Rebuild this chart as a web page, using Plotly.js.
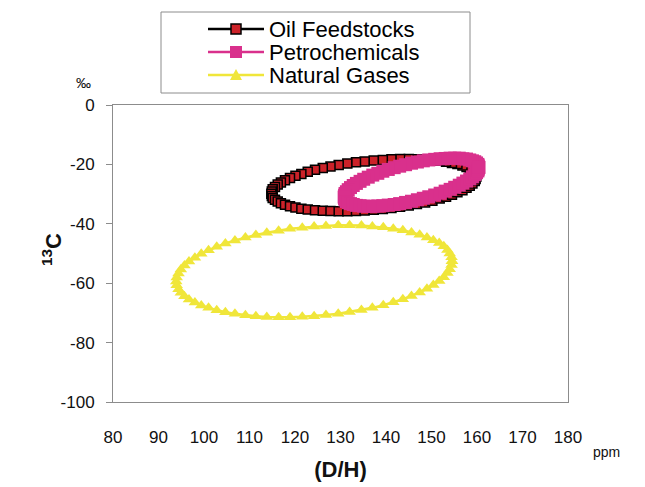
<!DOCTYPE html>
<html>
<head>
<meta charset="utf-8">
<script src="https://cdn.plot.ly/plotly-3.0.1.min.js"></script>
<style>html,body{margin:0;padding:0;background:#fff;}#chart{width:645px;height:487px;}</style>
</head>
<body>
<div id="chart"></div>
<script>
// Oil Feedstocks ellipse (D/H ppm, 13C ‰)
var oilX = [159.8,159.7,159.5,159.0,158.4,157.7,156.8,155.7,154.5,153.2,151.8,150.2,148.6,146.8,145.0,143.1,141.2,139.3,137.3,135.3,133.4,131.5,129.6,127.8,126.1,124.4,122.8,121.4,120.1,118.9,117.8,116.9,116.2,115.6,115.1,114.9,114.8,
  114.9,115.1,115.6,116.2,116.9,117.8,118.9,120.1,121.4,122.8,124.4,126.1,127.8,129.6,131.5,133.4,135.3,137.3,139.3,141.2,143.1,145.0,146.8,148.6,150.2,151.8,153.2,154.5,155.7,156.8,157.7,158.4,159.0,159.5,159.7,159.8];
var oilY = [-24.2,-23.4,-22.8,-22.1,-21.5,-20.9,-20.4,-19.9,-19.5,-19.1,-18.8,-18.6,-18.4,-18.3,-18.2,-18.2,-18.3,-18.5,-18.7,-19.0,-19.3,-19.7,-20.2,-20.7,-21.2,-21.8,-22.5,-23.2,-23.8,-24.6,-25.3,-26.1,-26.8,-27.6,-28.4,-29.1,-29.9,
  -30.6,-31.3,-31.9,-32.5,-33.1,-33.6,-34.1,-34.5,-34.9,-35.2,-35.4,-35.6,-35.7,-35.8,-35.8,-35.7,-35.5,-35.3,-35.0,-34.7,-34.3,-33.8,-33.3,-32.8,-32.2,-31.5,-30.9,-30.2,-29.4,-28.7,-27.9,-27.2,-26.4,-25.6,-24.9,-24.2];

// Petrochemicals ellipse
var petroX = [160.4,160.3,160.2,159.9,159.5,159.0,158.4,157.7,156.9,156.1,155.1,154.1,153.0,151.9,150.7,149.4,148.2,146.9,145.6,144.3,143.0,141.8,140.5,139.3,138.2,137.1,136.1,135.1,134.3,133.5,132.8,132.2,131.7,131.3,131.0,130.9,130.8,
  130.9,131.0,131.3,131.7,132.2,132.8,133.5,134.3,135.1,136.1,137.1,138.2,139.3,140.5,141.8,143.0,144.3,145.6,146.9,148.2,149.4,150.7,151.9,153.0,154.1,155.1,156.1,156.9,157.7,158.4,159.0,159.5,159.9,160.2,160.3,160.4];
var petroY = [-21.0,-20.5,-20.0,-19.5,-19.1,-18.8,-18.5,-18.2,-18.1,-17.9,-17.9,-17.9,-18.0,-18.1,-18.3,-18.5,-18.8,-19.2,-19.6,-20.1,-20.6,-21.1,-21.7,-22.3,-23.0,-23.6,-24.3,-25.0,-25.7,-26.4,-27.1,-27.8,-28.5,-29.2,-29.8,-30.4,-31.0,
  -31.5,-32.0,-32.5,-32.9,-33.2,-33.5,-33.8,-33.9,-34.1,-34.1,-34.1,-34.0,-33.9,-33.7,-33.5,-33.2,-32.8,-32.4,-31.9,-31.4,-30.9,-30.3,-29.7,-29.0,-28.4,-27.7,-27.0,-26.3,-25.6,-24.9,-24.2,-23.5,-22.8,-22.2,-21.6,-21.0];

// Natural Gases ellipse
var gasX = [154.5,154.4,154.0,153.5,152.7,151.7,150.4,149.0,147.4,145.6,143.7,141.6,139.4,137.0,134.6,132.0,129.5,126.8,124.2,121.6,118.9,116.4,113.8,111.4,109.1,106.8,104.7,102.8,101.0,99.4,98.0,96.7,95.7,94.9,94.4,94.0,93.9,
  94.0,94.4,94.9,95.7,96.7,98.0,99.4,101.0,102.8,104.7,106.8,109.1,111.4,113.8,116.4,118.9,121.6,124.2,126.8,129.5,132.0,134.6,137.0,139.4,141.6,143.7,145.6,147.4,149.0,150.4,151.7,152.7,153.5,154.0,154.4,154.5];
var gasY = [-52.6,-51.3,-50.0,-48.8,-47.6,-46.5,-45.5,-44.6,-43.7,-42.9,-42.2,-41.7,-41.2,-40.9,-40.6,-40.5,-40.5,-40.7,-40.9,-41.3,-41.7,-42.3,-43.0,-43.8,-44.6,-45.6,-46.6,-47.7,-48.9,-50.1,-51.4,-52.7,-54.0,-55.4,-56.7,-58.1,-59.4,
  -60.7,-62.0,-63.2,-64.4,-65.5,-66.5,-67.5,-68.3,-69.1,-69.8,-70.3,-70.8,-71.1,-71.4,-71.5,-71.5,-71.3,-71.1,-70.7,-70.3,-69.7,-69.0,-68.3,-67.4,-66.4,-65.4,-64.3,-63.1,-61.9,-60.6,-59.3,-58.0,-56.6,-55.3,-53.9,-52.6];

var seriesNames = ['Oil Feedstocks', 'Petrochemicals', 'Natural Gases'];
var seriesColors = ['#cc2229', '#d9308c', '#f0e63a'];
var xTickVals = [80,90,100,110,120,130,140,150,160,170,180];
var yTickVals = [0,-20,-40,-60,-80,-100];

var FONT = 'Liberation Sans, Arial, Helvetica, sans-serif';

var traces = [
  {x: gasX, y: gasY, name: seriesNames[2], mode: 'lines+markers', showlegend: false,
   line: {color: seriesColors[2], width: 2.5},
   marker: {symbol: 'triangle-up', size: 11, color: seriesColors[2]}},
  {x: oilX, y: oilY, name: seriesNames[0], mode: 'lines+markers', showlegend: false,
   line: {color: '#000000', width: 2.5},
   marker: {symbol: 'square', size: 9, color: seriesColors[0], line: {color: '#000000', width: 1.5}}},
  {x: petroX, y: petroY, name: seriesNames[1], mode: 'lines+markers', showlegend: false,
   line: {color: seriesColors[1], width: 2.5},
   marker: {symbol: 'square', size: 13, color: seriesColors[1]}}
];

// plot area in px: left 113, right 568, top 105, bottom 402
function px2x(p){ return (p - 113) / 455; }
function py2y(p){ return (402 - p) / 297; }

// legend (drawn as shapes + text annotations)
var legRows = [29, 52, 75];
var legLineColors = ['#000000', seriesColors[1], seriesColors[2]];
var shapes = [
  {type: 'rect', xref: 'paper', yref: 'paper',
   x0: px2x(161), x1: px2x(470), y0: py2y(93), y1: py2y(12),
   line: {color: '#8c8c8c', width: 1}, fillcolor: 'rgba(0,0,0,0)'}
];
var annotations = [];
for (var i = 0; i < 3; i++) {
  shapes.push({type: 'line', xref: 'paper', yref: 'paper',
    x0: px2x(208), x1: px2x(264), y0: py2y(legRows[i]), y1: py2y(legRows[i]),
    line: {color: legLineColors[i], width: 2.5}});
  annotations.push({text: seriesNames[i], xref: 'paper', yref: 'paper',
    x: px2x(267), y: py2y(legRows[i]), xanchor: 'left', yanchor: 'middle',
    showarrow: false, font: {family: FONT, size: 22, color: '#000'}});
}
shapes.push({type: 'rect', xref: 'paper', yref: 'paper', xsizemode: 'pixel', ysizemode: 'pixel',
  xanchor: px2x(236), yanchor: py2y(legRows[0]), x0: -5, x1: 5, y0: -5, y1: 5,
  fillcolor: seriesColors[0], line: {color: '#000', width: 1.5}});
shapes.push({type: 'rect', xref: 'paper', yref: 'paper', xsizemode: 'pixel', ysizemode: 'pixel',
  xanchor: px2x(236), yanchor: py2y(legRows[1]), x0: -6, x1: 6, y0: -6, y1: 6,
  fillcolor: seriesColors[1], line: {width: 0}});
shapes.push({type: 'path', xref: 'paper', yref: 'paper', xsizemode: 'pixel', ysizemode: 'pixel',
  xanchor: px2x(236), yanchor: py2y(legRows[2]), path: 'M-6,-5 L6,-5 L0,6 Z',
  fillcolor: seriesColors[2], line: {width: 0}});

annotations.push({text: '‰', xref: 'paper', yref: 'paper', x: px2x(74), y: py2y(72),
  showarrow: false, font: {family: FONT, size: 15, color: '#111'}});
annotations.push({text: 'ppm', xref: 'paper', yref: 'paper', x: px2x(622), y: py2y(462),
  showarrow: false, font: {family: FONT, size: 14, color: '#111'}});
annotations.push({text: '<b><sup>13</sup>C</b>', xref: 'paper', yref: 'paper', x: px2x(36), y: py2y(250),
  textangle: -90, showarrow: false, font: {family: FONT, size: 22, color: '#111'}});

var layout = {
  width: 645, height: 487,
  margin: {l: 113, r: 77, t: 105, b: 85, autoexpand: false},
  paper_bgcolor: '#ffffff', plot_bgcolor: '#ffffff',
  font: {family: FONT, color: '#111111'},
  showlegend: false,
  xaxis: {
    range: [80, 180], tickvals: xTickVals, ticktext: xTickVals.map(String),
    ticks: '', showgrid: false, zeroline: false, automargin: false,
    showline: true, linecolor: '#8c8c8c', linewidth: 1, mirror: true,
    tickfont: {family: FONT, size: 17, color: '#111'},
    ticklabelstandoff: 20,
    title: {text: '<b>(D/H)</b>', font: {family: FONT, size: 22, color: '#111'}, standoff: 15}
  },
  xaxis2: {
    overlaying: 'x', side: 'top', range: [80, 180], tickvals: xTickVals, automargin: false,
    ticks: 'outside', ticklen: 6, tickcolor: '#8c8c8c', showticklabels: false,
    showgrid: false, zeroline: false, showline: false
  },
  yaxis: {
    range: [-100, 0], tickvals: yTickVals, ticktext: yTickVals.map(String),
    ticks: 'outside', ticklen: 6, tickcolor: '#8c8c8c', automargin: false,
    showgrid: false, zeroline: false,
    showline: true, linecolor: '#8c8c8c', linewidth: 1, mirror: true,
    tickfont: {family: FONT, size: 17, color: '#111'},
    ticklabelstandoff: 8
  },
  shapes: shapes,
  annotations: annotations
};

Plotly.newPlot('chart', traces, layout, {displayModeBar: false, staticPlot: true});
</script>
</body>
</html>
